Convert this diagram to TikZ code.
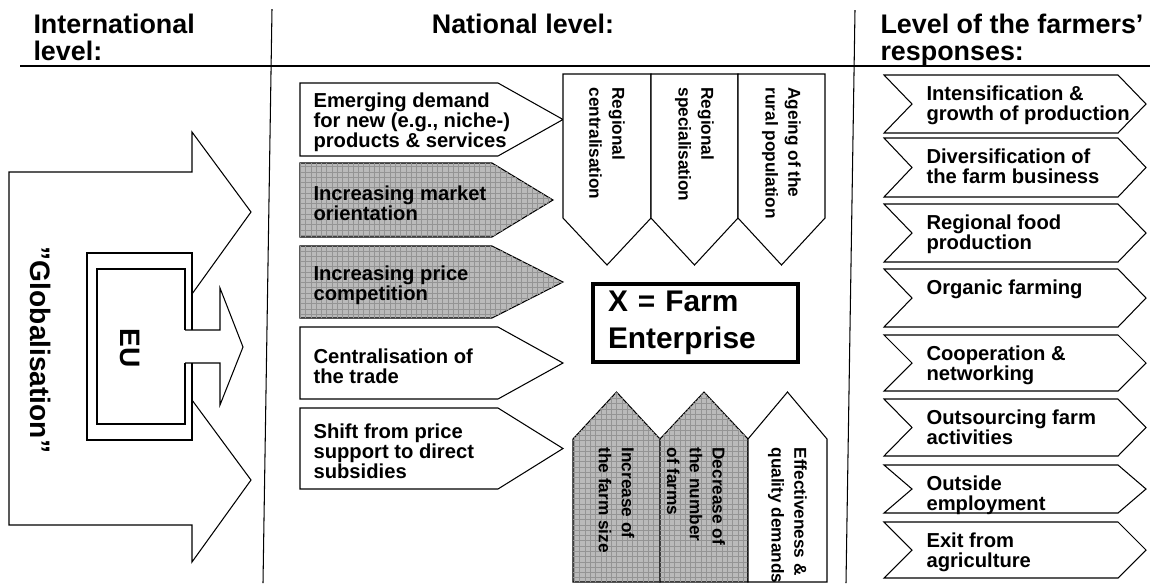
\documentclass[tikz,border=0pt]{standalone}
\usepackage{fontspec}
\setmainfont{Liberation Sans}
\usetikzlibrary{patterns}

\tikzset{
  head/.style={anchor=north west, align=left, inner sep=0pt, font=\bfseries\fontsize{15.3}{15.4}\selectfont},
  label/.style={anchor=west, align=left, inner sep=0pt, font=\bfseries\fontsize{11.5}{11.4}\selectfont},
  uptext/.style={rotate=-90, anchor=west, align=left, inner sep=0pt, font=\bfseries\fontsize{9.8}{13}\selectfont},
  bigtext/.style={rotate=-90, inner sep=0pt, font=\bfseries\fontsize{16}{16}\selectfont},
  box/.style={draw=black, fill=white},
  shaded/.style={draw=black, fill=black!27, postaction={pattern=grid, pattern color=black!42}},
  farmbox/.style={draw, line width=1.8pt, align=left, text width=3.5cm, inner xsep=0.3cm, inner ysep=0pt,
    minimum height=1.56cm, font=\bfseries\fontsize{17}{21}\selectfont},
}

\begin{document}
\begin{tikzpicture}[x=0.02cm, y=-0.02cm, line width=0.6pt]
\useasboundingbox (0,0) rectangle (1150,583);

% column frame and headings
\draw (20,66) -- (1150,66);
\draw (272,9) -- (263,583);
\draw (855,10) -- (846,583);
\node[head] (intl) at (33,13) {International\\level:};
\node[head, anchor=north] (natl) at (523,13) {National level:};
\node[head] (resp) at (880,13) {Level of the farmers'\\responses:};

% international level: globalisation with the EU inside
\draw (192,294) -- (251,212) -- (192,132) -- (192,172) -- (9,172) -- (9,525)
  -- (192,525) -- (192,562) -- (251,480) -- (192,400);
\draw (192,330) -- (192,253) -- (87,253) -- (87,440) -- (192,440) -- (192,363);
\draw (185,330) -- (185,269) -- (97,269) -- (97,424) -- (185,424) -- (185,363);
\draw (185,330) -- (220,330) -- (220,288) -- (243,347) -- (220,405) -- (220,363) -- (185,363);
\node[bigtext] (glob) at (41,350) {”Globalisation”};
\node[bigtext] (eu) at (130,348) {EU};

% national drivers
\foreach \ya/\yb/\xb/\xt/\sty/\txt [count=\n] in {
    83/156/498/563/box/{Emerging demand\\for new (e.g., niche-)\\products \& services},
    163/237/492/553/shaded/{Increasing market\\orientation},
    246/318/492/563/shaded/{Increasing price\\competition},
    327/399/498/563/box/{Centralisation of\\the trade},
    408/489/498/563/box/{Shift from price\\support to direct\\subsidies}}
{
  \draw[\sty] (300,\ya) -- (\xb,\ya) -- (\xt,{(\ya+\yb)/2}) -- (\xb,\yb) -- (300,\yb) -- cycle;
  \node[label] (drv\n) at (313,{(\ya+\yb)/2+3}) {\txt};
}

% regional trends from above
\foreach \xa/\xb/\txt [count=\n] in {
    563/651/{Regional\\centralisation},
    651/738/{Regional\\specialisation},
    738/825/{Ageing of the\\rural population}}
{
  \draw[box] (\xa,74) -- (\xb,74) -- (\xb,218) -- ({(\xa+\xb)/2},265) -- (\xa,218) -- cycle;
  \node[uptext] (reg\n) at ({(\xa+\xb)/2},87) {\txt};
}

% structural trends from below
\foreach \xa/\xb/\dx/\sty/\txt [count=\n] in {
    573/660/0/shaded/{Increase of\\the farm size},
    660/748/-8/shaded/{Decrease of\\the number\\of farms},
    748/827/0/box/{Effectiveness \&\\quality demands}}
{
  \draw[\sty] (\xa,582) -- (\xa,439) -- ({(\xa+\xb)/2},392) -- (\xb,439) -- (\xb,582) -- cycle;
  \node[uptext] (str\n) at ({(\xa+\xb)/2+\dx},447) {\txt};
}

\node[farmbox] (firm) at (695.5,323) {X = Farm\\Enterprise};

% farmers' responses
\foreach \ya/\yb/\txt [count=\n] in {
    75/133/{Intensification \&\\growth of production},
    138/197/{Diversification of\\the farm business},
    204/262/{Regional food\\production},
    269/327/{Organic farming},
    335/391/{Cooperation \&\\networking},
    399/456/{Outsourcing farm\\activities},
    465/513/{Outside\\employment},
    522/578/{Exit from\\agriculture}}
{
  \draw (884,\ya) -- (1118,\ya) -- (1146,{(\ya+\yb)/2}) -- (1118,\yb) -- (884,\yb)
    -- (912,{(\ya+\yb)/2}) -- cycle;
  \node[label, anchor=north west] (act\n) at (926,{\ya+10}) {\txt};
}
\end{tikzpicture}
\end{document}
